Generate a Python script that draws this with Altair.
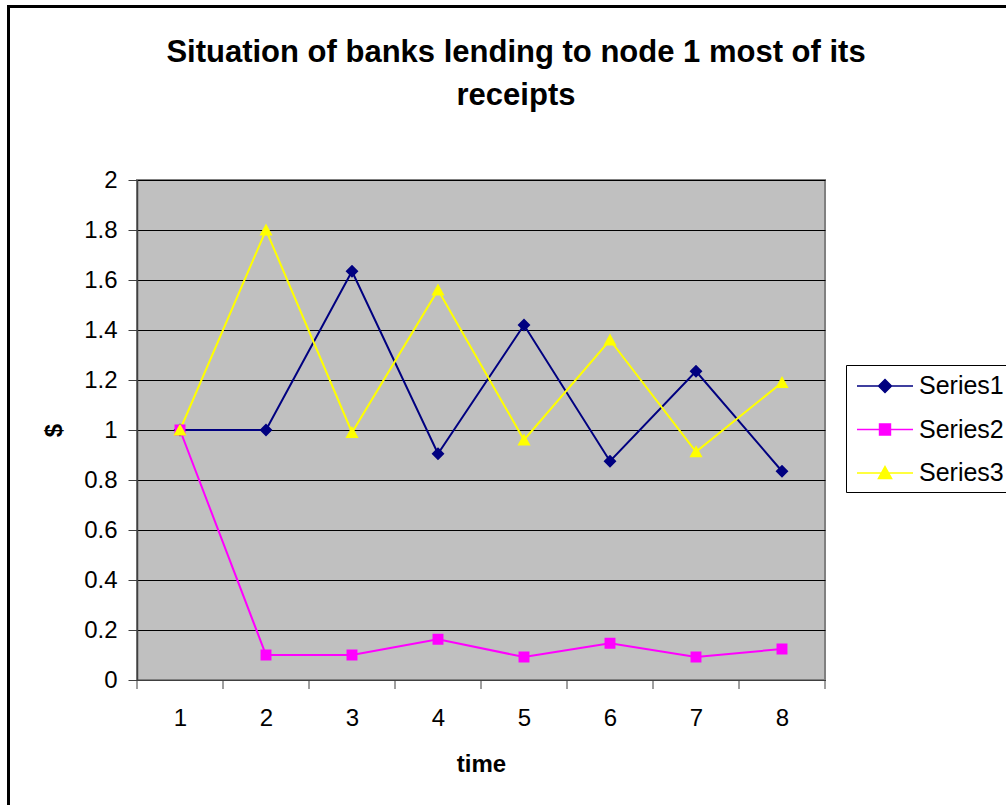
import altair as alt
import pandas as pd

# ---- data ----
time = [1, 2, 3, 4, 5, 6, 7, 8]
series1 = [1.0, 1.0, 1.635, 0.905, 1.42, 0.875, 1.235, 0.835]
series2 = [1.0, 0.1, 0.1, 0.163, 0.092, 0.147, 0.092, 0.124]
series3 = [1.0, 1.8, 0.99, 1.56, 0.96, 1.36, 0.913, 1.19]
series_names = ["Series1", "Series2", "Series3"]
series_colors = ["#000080", "#FF00FF", "#FFFF00"]
y_ticks = [0, 0.2, 0.4, 0.6, 0.8, 1, 1.2, 1.4, 1.6, 1.8, 2]
x_tick_edges = [0.5, 1.5, 2.5, 3.5, 4.5, 5.5, 6.5, 7.5, 8.5]

# marker shapes: a short legend line plus the marker (the line part has no area)
DIAMOND = "M-2,0L2,0M0,-0.46L0.46,0L0,0.46L-0.46,0Z"
SQUARE = "M-2,0L2,0M-0.39,-0.39L0.39,-0.39L0.39,0.39L-0.39,0.39Z"
TRIANGLE = "M-2,0L2,0M0,-0.46L0.47,0.4L-0.47,0.4Z"
series_shapes = [DIAMOND, SQUARE, TRIANGLE]

rows = []
for name, col, shp, vals in zip(series_names, series_colors, series_shapes,
                                [series1, series2, series3]):
    for t, v in zip(time, vals):
        rows.append({"time": t, "value": v, "series": name, "col": col, "shp": shp})
df = pd.DataFrame(rows)
edges = pd.DataFrame({"edge": x_tick_edges})
frame_df = pd.DataFrame({"k": [0]})

FONT = "Liberation Sans"

x_scale = alt.Scale(domain=[0.5, 8.5], nice=False, zero=False)
y_scale = alt.Scale(domain=[0, 2], nice=False)
color_scale = alt.Scale(domain=series_names, range=series_colors)
shape_scale = alt.Scale(domain=series_names, range=series_shapes)

x_axis = alt.Axis(
    values=time, format="d", ticks=False, tickSize=0, grid=False,
    labelPadding=26, labelFontSize=24, labelFont=FONT, labelColor="black",
    title="time", titleFont=FONT, titleFontSize=24, titleFontWeight="bold",
    titleColor="black", titlePadding=22,
    domainColor="#404040", domainWidth=1,
)
y_axis = alt.Axis(
    values=y_ticks, format=".1~f", grid=True, gridColor="#000000", gridWidth=1,
    tickSize=9, tickColor="#404040", labelPadding=11,
    labelFontSize=24, labelFont=FONT, labelColor="black",
    title="$", titleFont=FONT, titleFontSize=24, titleFontWeight="bold",
    titleColor="black", titlePadding=17,
    domainColor="#404040", domainWidth=1.5,
)
x_enc = alt.X("time:Q", scale=x_scale, axis=x_axis)
y_enc = alt.Y("value:Q", scale=y_scale, axis=y_axis)

outer_frame = alt.Chart(frame_df).mark_rect(
    fill="transparent", stroke="black", strokeWidth=3
).encode(
    x=alt.value(-128.5), y=alt.value(-173.5), x2=alt.value(950), y2=alt.value(700)
)

lines = alt.Chart(df).mark_line(strokeWidth=2).encode(
    x=x_enc, y=y_enc,
    stroke=alt.Stroke("col:N", scale=None),
    detail="series:N",
)

points = alt.Chart(df).mark_point(filled=True, size=784, strokeWidth=0, opacity=1).encode(
    x=x_enc, y=y_enc,
    fill=alt.Fill("col:N", scale=None),
    shape=alt.Shape("shp:N", scale=None),
)

legend_layer = alt.Chart(df).transform_filter("false").mark_point(
    filled=True, size=784, strokeWidth=2, opacity=1
).encode(
    x=x_enc, y=y_enc,
    fill=alt.Fill("series:N", scale=color_scale, legend=alt.Legend(title=None)),
    stroke=alt.Stroke("series:N", scale=color_scale, legend=alt.Legend(title=None)),
    shape=alt.Shape("series:N", scale=shape_scale, legend=alt.Legend(title=None)),
)

x_ticks = alt.Chart(edges).mark_rule(color="#404040", strokeWidth=1).encode(
    x=alt.X("edge:Q", scale=x_scale, axis=x_axis),
    y=alt.value(500), y2=alt.value(509),
)

chart = alt.layer(outer_frame, lines, points, legend_layer, x_ticks).properties(
    width=688,
    height=500,
    autosize=alt.AutoSizeParams(type="none"),
    padding={"left": 137, "top": 180, "right": 181, "bottom": 125},
    background="white",
    title=alt.TitleParams(
        text=["Situation of banks lending to node 1 most of its", "receipts"],
        font=FONT, fontSize=31, fontWeight="bold", color="black",
        anchor="middle", frame="group", dx=35, offset=-106.5, lineHeight=43,
    ),
).configure_view(
    fill="#C0C0C0", stroke="#808080", strokeWidth=2
).configure_legend(
    orient="none", legendX=709, legendY=185,
    padding=6, strokeColor="black", fillColor="white", cornerRadius=0,
    labelFont=FONT, labelFontSize=25, labelColor="black", labelLimit=300,
    symbolSize=784, symbolOffset=18, labelOffset=19, rowPadding=15.5,
    symbolFillColor="#000000",
)

chart.save("out.html", embed_options={"renderer": "svg", "actions": False})
